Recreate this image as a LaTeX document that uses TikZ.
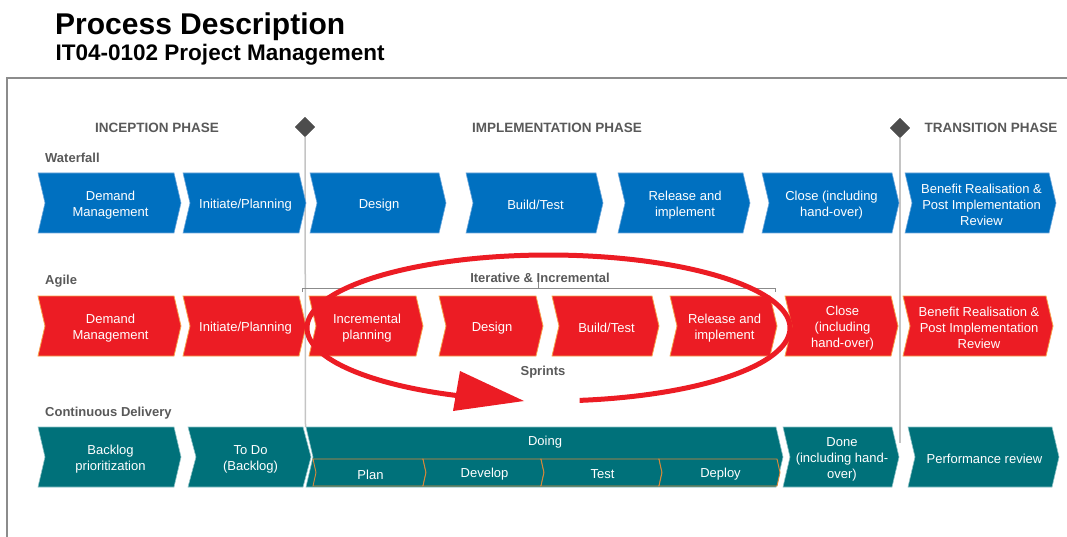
\documentclass[tikz,border=0pt]{standalone}
\usepackage{fontspec}
\setmainfont{Liberation Sans}
\usetikzlibrary{shapes.geometric}
\definecolor{wfblue}{HTML}{0070C0}
\definecolor{wfedge}{HTML}{6FA8DC}
\definecolor{agred}{HTML}{EC1C24}
\definecolor{agedge}{HTML}{F7A04A}
\definecolor{cdteal}{HTML}{00717A}
\definecolor{cdedge}{HTML}{8CC2C6}
\definecolor{subedge}{HTML}{D9893A}
\definecolor{labgray}{HTML}{595959}
\definecolor{framegray}{HTML}{8C8C8C}
\definecolor{sepgray}{HTML}{C4C4C4}
\definecolor{diamondgray}{HTML}{4D4D4D}
\tikzset{
  wfbox/.style={fill=wfblue, draw=wfedge, line width=0.6pt},
  agbox/.style={fill=agred, draw=agedge, line width=0.8pt},
  cdbox/.style={fill=cdteal, draw=cdedge, line width=0.6pt},
  subbox/.style={fill=cdteal, draw=subedge, line width=0.9pt},
  boxtext/.style={text=white, align=center, inner sep=0pt, font=\fontsize{13}{16}\selectfont},
  phaselabel/.style={text=labgray, inner sep=0pt, font=\fontsize{13.5}{16}\selectfont\bfseries},
  rowlabel/.style={text=labgray, inner sep=0pt, anchor=base west, font=\fontsize{13}{16}\selectfont\bfseries},
  milestone/.style={diamond, fill=diamondgray, minimum size=20pt, inner sep=0pt},
  sepline/.style={draw=sepgray, line width=1.5pt},
}
% #1 style, #2 xl, #3 xr, #4 yt, #5 yb, #6 depth
\newcommand{\chevshape}[6]{%
  \path[#1] (#2,#4) -- ({#3-#6},#4) -- (#3,{(#4+#5)/2}) -- ({#3-#6},#5) -- (#2,#5) -- ({#2+#6},{(#4+#5)/2}) -- cycle;}
% #1 name, #2 style, #3 xl, #4 xr, #5 yt, #6 yb, #7 depth, #8 text
\newcommand{\chevbox}[8]{%
  \chevshape{#2}{#3}{#4}{#5}{#6}{#7}%
  \node[boxtext] (#1) at ({(#3+#4)/2+1},{(#5+#6)/2+2}) {#8};}
\begin{document}
\begin{tikzpicture}[x=1pt,y=-1pt]
\useasboundingbox (0,0) rectangle (1067,537);
% titles
\node[anchor=base west, inner sep=0pt, font=\fontsize{30}{32}\selectfont\bfseries] (title) at (55,35) {Process Description};
\node[anchor=base west, inner sep=0pt, font=\fontsize{22.5}{26}\selectfont\bfseries] (subtitle) at (55.5,61) {IT04-0102 Project Management};
% frame
\draw[framegray, line width=2pt] (7,537) -- (7,78) -- (1067,78);
% phases
\node[phaselabel] (inception) at (157,128) {INCEPTION PHASE};
\node[phaselabel] (implementation) at (557,128) {IMPLEMENTATION PHASE};
\node[phaselabel] (transition) at (991,128) {TRANSITION PHASE};
\coordinate (s1end) at (305.5,427);
\coordinate (s2end) at (900,443);
\node[milestone] (m1) at (305,127) {};
\node[milestone] (m2) at (900,128) {};
\draw[sepline] (m1.center) -- (s1end);
\draw[sepline] (m2.center) -- (s2end);
\node[milestone] at (305,127) {};
\node[milestone] at (900,128) {};
% row labels
\node[rowlabel] (lwf) at (45,162.5) {Waterfall};
\node[rowlabel] (lag) at (45,284.5) {Agile};
\node[rowlabel] (lcd) at (45,416.5) {Continuous Delivery};
% waterfall row
\chevbox{wf1}{wfbox}{38}{181}{173}{233}{7}{Demand\\Management}
\chevbox{wf2}{wfbox}{183}{306}{173}{233}{7}{Initiate/Planning}
\chevbox{wf3}{wfbox}{310}{446}{173}{233}{7}{Design}
\chevbox{wf4}{wfbox}{466}{603}{173}{233}{7}{Build/Test}
\chevbox{wf5}{wfbox}{618}{750}{173}{233}{7}{Release and\\implement}
\chevbox{wf6}{wfbox}{762}{899}{173}{233}{7}{Close (including\\hand-over)}
\chevbox{wf7}{wfbox}{905}{1056}{173}{233}{7}{Benefit Realisation \&\\Post Implementation\\Review}
% agile row
\draw[draw=labgray!70, line width=0.6pt] (302,292) -- (302,288) -- (775,288) -- (775,292);
\draw[draw=labgray!70, line width=0.6pt] (538.5,288) -- (538.5,274);
\node[text=labgray, inner sep=0pt, font=\fontsize{13}{16}\selectfont\bfseries] (iter) at (540,278) {Iterative \& Incremental};
\chevbox{ag1}{agbox}{38}{181}{296}{356}{7}{Demand\\Management}
\chevbox{ag2}{agbox}{183}{306}{296}{356}{7}{Initiate/Planning}
\chevbox{ag3}{agbox}{309}{423}{296}{356}{7}{Incremental\\planning}
\chevbox{ag4}{agbox}{439}{543}{296}{356}{7}{Design}
\chevbox{ag5}{agbox}{552}{659}{296}{356}{7}{Build/Test}
\chevbox{ag6}{agbox}{670}{777}{296}{356}{7}{Release and\\implement}
\chevbox{ag7}{agbox}{785}{898}{296}{356}{7}{Close\\(including\\hand-over)}
\chevbox{ag8}{agbox}{903}{1053}{296}{356}{7}{Benefit Realisation \&\\Post Implementation\\Review}
\node[text=labgray, inner sep=0pt, font=\fontsize{13}{16}\selectfont\bfseries] (sprints) at (543,372) {Sprints};
% continuous delivery row
\chevbox{cd1}{cdbox}{38}{181}{427}{487}{7}{Backlog\\prioritization}
\chevbox{cd2}{cdbox}{188}{311}{427}{487}{8}{To Do\\(Backlog)}
\chevshape{cdbox}{306}{783}{427}{487}{7}
\node[boxtext] (doing) at (545,442) {Doing};
\chevbox{sub1}{subbox}{313}{426}{459}{486}{3}{Plan}
\chevbox{sub2}{subbox}{423}{544}{459}{486}{3}{Develop}
\chevbox{sub3}{subbox}{541}{662}{459}{486}{3}{Test}
\chevbox{sub4}{subbox}{659}{780}{459}{486}{3}{Deploy}
\chevbox{cd4}{cdbox}{783}{899}{427}{487}{7}{Done\\(including hand-\\over)}
\chevbox{cd5}{cdbox}{908}{1059}{427}{487}{7}{Performance review}
% sprint loop
\draw[agred, line width=5pt] plot[domain=-249:82.6, samples=240, smooth] ({548.5+241.5*cos(\x)},{328+73*sin(\x)});
\fill[agred] (460,371) -- (524,401) -- (453,411) -- cycle;
\end{tikzpicture}
\end{document}
